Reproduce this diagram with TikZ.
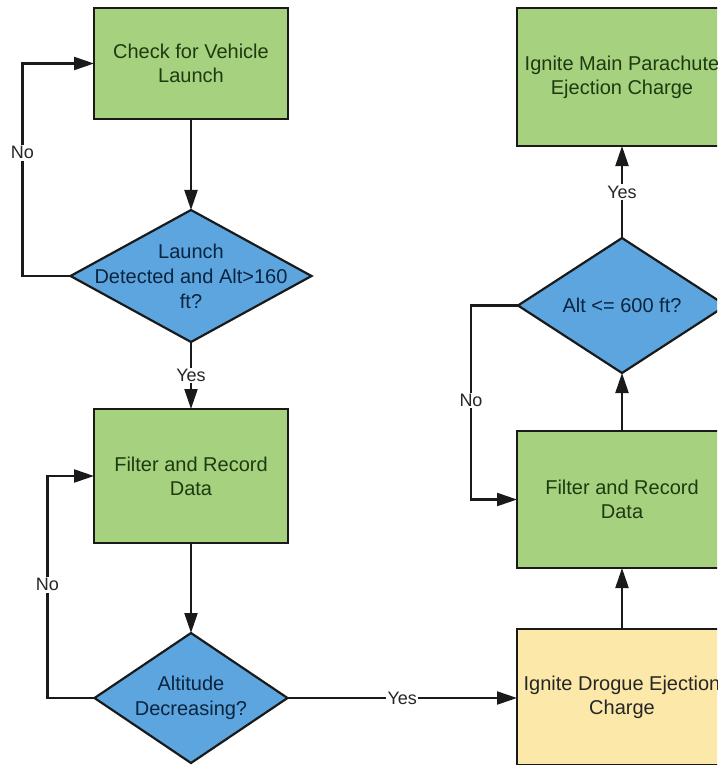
\documentclass[tikz,border=0pt]{standalone}
\usepackage{fontspec}
\setmainfont{Liberation Sans}
\usepackage{xcolor}
\usepackage{tikz}
\usetikzlibrary{
  positioning,
  arrows.meta,
  shapes.geometric
}

\definecolor{procfill}{HTML}{A6D17E}
\definecolor{procink}{HTML}{1E3A10}
\definecolor{decfill}{HTML}{5CA5DE}
\definecolor{decink}{HTML}{0B2440}
\definecolor{firefill}{HTML}{FCE8A8}
\definecolor{edgeink}{HTML}{1A1A1A}

\begin{document}
\begin{tikzpicture}[
  x=1pt, y=-1pt,
  font=\fontsize{20}{24}\selectfont,
  process/.style={
    rectangle,
    draw=edgeink,
    fill=procfill,
    line width=2.2pt,
    outer sep=0pt,
    text=procink,
    minimum width=194pt,
    minimum height=111pt,
    align=center
  },
  firebox/.style={
    process,
    fill=firefill,
    text=black!85
  },
  decision/.style={
    diamond,
    draw=edgeink,
    fill=decfill,
    line width=2.2pt,
    outer sep=0pt,
    inner sep=0pt
  },
  dectext/.style={
    align=center,
    text=decink,
    font=\fontsize{20}{25}\selectfont
  },
  arrow/.style={
    -{Triangle[length=20pt, width=13pt]},
    line width=2.2pt,
    draw=edgeink
  },
  answer/.style={
    fill=white,
    inner sep=1.5pt,
    text=black!85,
    font=\fontsize{18}{20}\selectfont
  }
]

\useasboundingbox (0,0) rectangle (717,765);
\clip (0,0) rectangle (717,765);

% left column: launch detection and apogee search
\node[process] (launch) at (191,63.5) {Check for Vehicle\\Launch};
\node[decision, minimum width=241pt, minimum height=132pt, below=91pt of launch,
  label={[dectext]center:{Launch\\Detected and Alt>160\\ft?}}] (detect) {};
\node[process, minimum height=134pt, below=67pt of detect] (record) {Filter and Record\\Data};
\node[decision, minimum width=193pt, minimum height=130pt, below=90pt of record,
  label={[dectext]center:{Altitude\\Decreasing?}}] (apogee) {};

% right column: drogue, then main chute
\node[firebox, minimum width=210pt, minimum height=136pt] (drogue) at (622,697) {Ignite Drogue Ejection\\Charge};
\node[process, minimum width=210pt, minimum height=137pt, above=61pt of drogue] (record2) {Filter and Record\\Data};
\node[decision, minimum width=208pt, minimum height=135pt, above=58pt of record2,
  label={[dectext]center:{Alt <= 600 ft?}}] (deploy) {};
\node[process, minimum width=210pt, minimum height=138pt, above=92pt of deploy] (mainchute) {Ignite Main Parachute\\Ejection Charge};

\draw[arrow] (launch) -- (detect);
\draw[arrow] (detect.west) -- ++(-48,0) |- node[answer, pos=0.29]{No} (launch.west);
\draw[arrow] (detect) -- node[answer]{Yes} (record);

\draw[arrow] (record) -- (apogee);
\draw[arrow] (apogee.west) -- ++(-47,0) |- node[answer, pos=0.255]{No} (record.west);
\draw[arrow] (apogee.east) -- node[answer]{Yes} (apogee.east -| drogue.west);

\draw[arrow] (drogue) -- (record2);
\draw[arrow] (record2) -- (deploy);
\draw[arrow] (deploy.west) -- ++(-47,0) |- node[answer, pos=0.245]{No} (record2.west);
\draw[arrow] (deploy) -- node[answer]{Yes} (mainchute);

\end{tikzpicture}
\end{document}
